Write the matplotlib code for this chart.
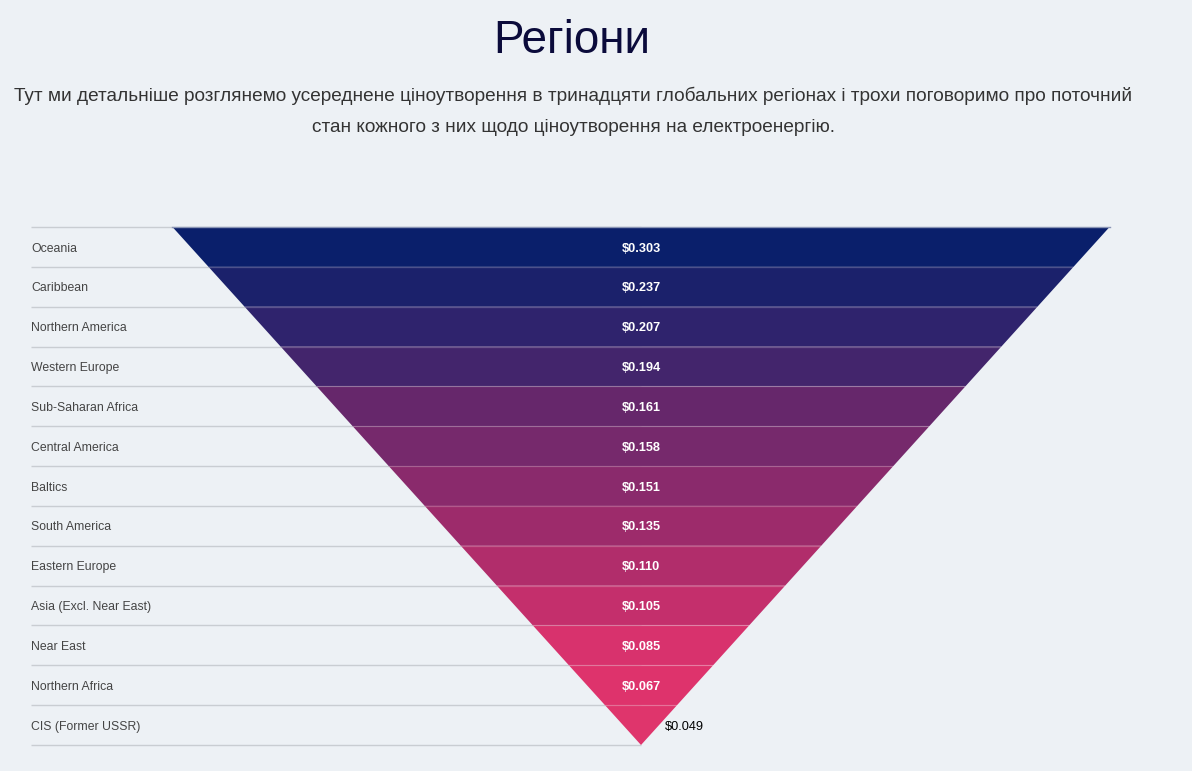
import matplotlib
matplotlib.use("Agg")
import matplotlib.pyplot as plt
from matplotlib.patches import Polygon

plt.rcParams['font.family'] = ['Liberation Sans', 'DejaVu Sans']

regions = ["Oceania", "Caribbean", "Northern America", "Western Europe",
           "Sub-Saharan Africa", "Central America", "Baltics", "South America",
           "Eastern Europe", "Asia (Excl. Near East)", "Near East",
           "Northern Africa", "CIS (Former USSR)"]
prices = [0.303, 0.237, 0.207, 0.194, 0.161, 0.158, 0.151, 0.135,
          0.110, 0.105, 0.085, 0.067, 0.049]
colors = ["#0a1f6b", "#1b216b", "#2f236d", "#43256c", "#66276b", "#76296c",
          "#8a2a6c", "#9d2b6b", "#b12d6b", "#c42f6c", "#d8326d", "#de336c",
          "#df356c"]

title = "Регіони"
subtitle = ("Тут ми детальніше розглянемо усереднене ціноутворення в тринадцяти глобальних регіонах і трохи поговоримо про поточний\n"
            "стан кожного з них щодо ціноутворення на електроенергію.")

W, H = 1192, 771
fig = plt.figure(figsize=(W / 100, H / 100), dpi=100)
bg = "#edf1f5"
fig.patch.set_facecolor(bg)

fig.text(572 / W, 1 - 41 / H, title, ha="center", va="center",
         fontsize=33, color="#0b0b3b")
fig.text(573 / W, 1 - 111.5 / H, subtitle, ha="center", va="center",
         fontsize=13.7, color="#333333", linespacing=2.05)

ax = fig.add_axes([31 / W, 1 - 745 / H, (1110 - 31) / W, (745 - 227) / H])
ax.set_facecolor(bg)
n = len(regions)
xl, xr = -1.302, 1.001
ax.set_xlim(xl, xr)
ax.set_ylim(n, 0)
ax.axis("off")

# separator lines for label column
for k in range(n + 1):
    ax.plot([xl, 0], [k, k], color="#c9cdd2", lw=1, zorder=1,
            solid_capstyle="butt", clip_on=False)

def hw(y):
    return 1 - y / n

for i, (name, val, c) in enumerate(zip(regions, prices, colors)):
    y0, y1 = i, i + 1
    poly = Polygon([(-hw(y0), y0), (hw(y0), y0), (hw(y1), y1), (-hw(y1), y1)],
                   closed=True, facecolor=c, edgecolor="none", zorder=2,
                   antialiased=True)
    ax.add_patch(poly)
    if i > 0:
        ax.plot([-hw(y0), hw(y0)], [y0, y0], color="white", alpha=0.22,
                lw=0.9, zorder=3)
    yc = i + 0.54
    ax.text(xl, yc, name, ha="left", va="center", fontsize=8.8,
            color="#444444", zorder=4)
    label = f"${val:.3f}"
    if i < n - 1:
        ax.text(0, yc, label, ha="center", va="center", fontsize=9.2,
                color="white", fontweight="bold", zorder=4)
    else:
        ax.text(hw(i + 0.5) + 0.012, yc, label, ha="left", va="center",
                fontsize=9.2, color="black", zorder=4)

ax.plot([-1, 1], [0, 0], color="#8a95b5", lw=1, zorder=3, clip_on=False)

fig.savefig("out.png", dpi=100, facecolor=bg)
